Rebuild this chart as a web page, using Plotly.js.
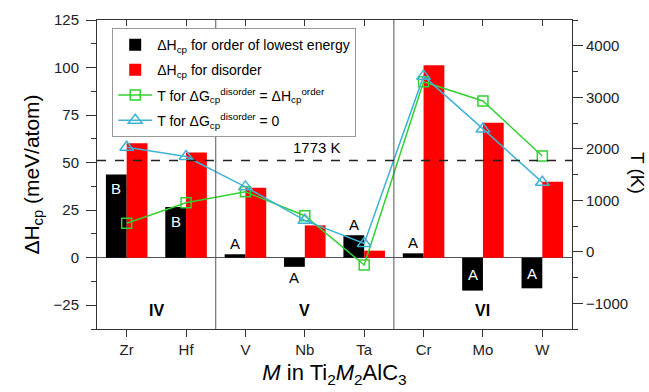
<!DOCTYPE html>
<html>
<head>
<meta charset="utf-8">
<script src="https://cdn.plot.ly/plotly-3.0.1.min.js"></script>
<style>html,body{margin:0;padding:0;background:#fff;}#chart{width:649px;height:392px;}</style>
</head>
<body>
<div id="chart"></div>
<script>
// ---- data ----
const categories = ['Zr', 'Hf', 'V', 'Nb', 'Ta', 'Cr', 'Mo', 'W'];
const orderH = [43.8, 26.7, 1.8, -4.8, 11.8, 2.3, -17.3, -16.1];      // meV/atom
const disorderH = [60.2, 55.3, 36.8, 17.0, 3.7, 101.2, 70.9, 39.9];  // meV/atom
const tEqual = [552, 953, 1165, 700, -257, 3302, 2927, 1859];        // K
const tZero = [2030, 1850, 1260, 610, 160, 3410, 2385, 1348];        // K
const orderLabels = ['B', 'B', 'A', 'A', 'A', 'A', 'A', 'A'];
const groupNames = ['IV', 'V', 'VI'];
const groupMembers = [['Zr', 'Hf'], ['V', 'Nb', 'Ta'], ['Cr', 'Mo', 'W']];
const meltT = 1773;
const meltLabel = '1773 K';
const leftTicks = [-25, 0, 25, 50, 75, 100, 125];
const rightTicks = [-1000, 0, 1000, 2000, 3000, 4000];

const FONT = 'Liberation Sans, Arial, sans-serif';
const AX = '#333';
const GREEN = '#33d133';
const CYAN = '#3fb3d6';

const traces = [
  {type: 'bar', x: categories, y: orderH, name: 'ΔH<sub>cp</sub> for order of lowest energy',
   legendgroup: 'g1', marker: {color: '#000'}, xaxis: 'x', yaxis: 'y'},
  {type: 'bar', x: categories, y: disorderH, name: 'ΔH<sub>cp</sub> for disorder',
   legendgroup: 'g2', marker: {color: '#ff0000'}, xaxis: 'x', yaxis: 'y'},
  {type: 'scatter', mode: 'lines+markers', x: categories, y: tEqual,
   name: 'T for ΔG<sub>cp</sub><sup>disorder</sup> = ΔH<sub>cp</sub><sup>order</sup>',
   legendgroup: 'g3', line: {color: GREEN, width: 1.5},
   marker: {symbol: 'square-open', size: 10, color: GREEN, line: {width: 1.5, color: GREEN}},
   xaxis: 'x2', yaxis: 'y2'},
  {type: 'scatter', mode: 'lines+markers', x: categories, y: tZero,
   name: 'T for ΔG<sub>cp</sub><sup>disorder</sup> = 0',
   legendgroup: 'g4', line: {color: CYAN, width: 1.5},
   marker: {symbol: 'triangle-up-open', size: 12, color: CYAN, line: {width: 1.5, color: CYAN}},
   xaxis: 'x2', yaxis: 'y2'}
];

// letters on the order bars
const annotations = [];
orderH.forEach((v, i) => {
  const bx = i - 0.175;
  const a = {x: bx, xref: 'x', yref: 'y', text: orderLabels[i], showarrow: false,
             font: {family: FONT, size: 15, color: '#000'}};
  if (Math.abs(v) > 15) {
    a.font.color = '#fff';
    if (v > 0) { a.y = v; a.yanchor = 'top'; a.yshift = -4; }
    else { a.y = v / 2; a.yanchor = 'middle'; }
  } else if (v >= 0) { a.y = v; a.yanchor = 'bottom'; a.yshift = 0; }
  else { a.y = v; a.yanchor = 'top'; a.yshift = 0; }
  annotations.push(a);
});
// group labels
const shapes = [];
groupNames.forEach((g, k) => {
  const idx = groupMembers[k].map(m => categories.indexOf(m));
  const c = idx.reduce((s, t) => s + t, 0) / idx.length;
  annotations.push({x: c, xref: 'x', y: 0.06, yref: 'paper', yanchor: 'middle', text: '<b>' + g + '</b>',
                    showarrow: false, font: {family: FONT, size: 16, color: '#000'}});
  if (k < groupNames.length - 1) {
    const sep = Math.max(...idx) + 0.5;
    shapes.push({type: 'line', xref: 'x', yref: 'paper', x0: sep, x1: sep, y0: 0, y1: 1,
                 line: {color: '#555', width: 1}});
  }
});
// melting temperature line
shapes.push({type: 'line', xref: 'paper', yref: 'y2', x0: 0, x1: 1, y0: meltT, y1: meltT,
             line: {color: '#222', width: 1.5, dash: 'dash'}});
annotations.push({x: 3.2, xref: 'x', y: meltT, yref: 'y2', yanchor: 'bottom', yshift: 2,
                  text: meltLabel, showarrow: false, font: {family: FONT, size: 15, color: '#000'}});
// right axis title (reads top-to-bottom)
annotations.push({x: 1.137, xref: 'paper', y: 0.505, yref: 'paper', text: 'T (K)', textangle: 90,
                  showarrow: false, xanchor: 'center', yanchor: 'middle',
                  font: {family: FONT, size: 19, color: '#000'}});

const layout = {
  width: 649, height: 392,
  margin: {l: 97, r: 77, t: 20, b: 63},
  paper_bgcolor: '#fff', plot_bgcolor: '#fff',
  font: {family: FONT, color: '#000'},
  barmode: 'group', bargap: 0.3, bargroupgap: 0,
  showlegend: true,
  legend: {x: 0.032, y: 0.974, xanchor: 'left', yanchor: 'top', bgcolor: '#fff',
           bordercolor: '#999', borderwidth: 1, font: {family: FONT, size: 14, color: '#000'},
           tracegroupgap: 4, itemwidth: 34},
  xaxis: {type: 'category', range: [-0.5, 7.5], showline: true, linecolor: AX, linewidth: 1,
          ticks: 'outside', ticklen: 7, tickcolor: AX, showgrid: false, zeroline: false,
          tickfont: {family: FONT, size: 15, color: '#222'},
          title: {text: '<i>M</i> in Ti<sub>2</sub><i>M</i><sub>2</sub>AlC<sub>3</sub>',
                  font: {family: FONT, size: 22, color: '#000'}, standoff: 7}},
  xaxis2: {type: 'category', range: [-0.5, 7.5], overlaying: 'x', side: 'top', anchor: 'y2',
           showline: true, linecolor: AX, linewidth: 1, ticks: 'inside', ticklen: 6, tickcolor: AX,
           showticklabels: false, showgrid: false, zeroline: false},
  yaxis: {range: [-37.5, 125], tickvals: leftTicks, showline: true, linecolor: AX, linewidth: 1,
          ticks: 'outside', ticklen: 10, tickcolor: AX, showgrid: false,
          zeroline: true, zerolinecolor: '#555', zerolinewidth: 1,
          minor: {dtick: 12.5, tick0: 0, ticks: 'outside', ticklen: 5, tickcolor: AX, showgrid: false},
          ticklabelstandoff: 4,
          tickfont: {family: FONT, size: 15, color: '#222'},
          title: {text: 'ΔH<sub>cp</sub> (meV/atom)', font: {family: FONT, size: 21, color: '#000'}, standoff: 8}},
  yaxis2: {range: [-1500, 4500], tickvals: rightTicks, overlaying: 'y', side: 'right', anchor: 'x2',
           showline: true, linecolor: AX, linewidth: 1, ticks: 'outside', ticklen: 10, tickcolor: AX,
           showgrid: false, zeroline: false,
           minor: {dtick: 500, tick0: 0, ticks: 'outside', ticklen: 5, tickcolor: AX, showgrid: false},
           tickfont: {family: FONT, size: 15, color: '#222'}},
  shapes: shapes,
  annotations: annotations
};

Plotly.newPlot('chart', traces, layout, {displayModeBar: false, staticPlot: true});
</script>
</body>
</html>
